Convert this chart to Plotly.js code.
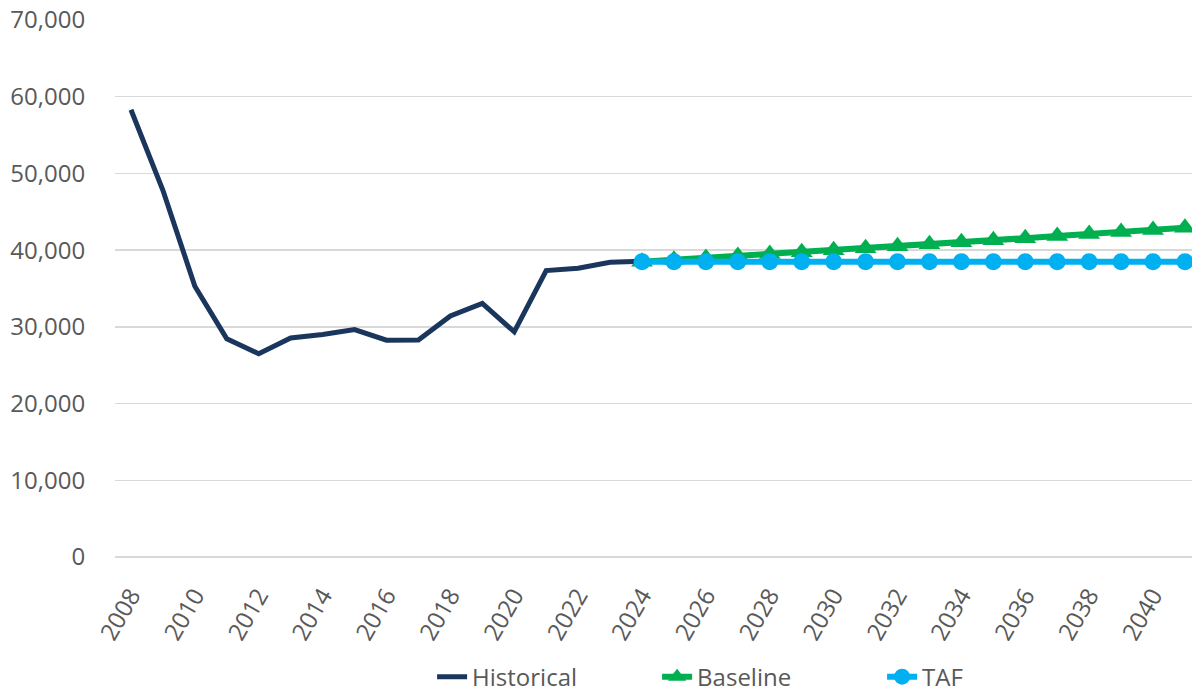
<!DOCTYPE html>
<html>
<head>
<meta charset="utf-8">
<script src="https://cdn.plot.ly/plotly-3.0.1.min.js"></script>
<style>
  html, body { margin: 0; padding: 0; background: #ffffff; overflow: hidden; }
  #chart { width: 1192px; height: 698px; }
</style>
</head>
<body>
<div id="chart"></div>
<script>
// ---- Data ----
const histYears = [2008, 2009, 2010, 2011, 2012, 2013, 2014, 2015, 2016, 2017, 2018, 2019, 2020, 2021, 2022, 2023, 2024];
const historical = [58300, 47800, 35300, 28450, 26500, 28550, 29000, 29650, 28270, 28300, 31430, 33070, 29350, 37330, 37640, 38420, 38550];

const fcstYears = [2024, 2025, 2026, 2027, 2028, 2029, 2030, 2031, 2032, 2033, 2034, 2035, 2036, 2037, 2038, 2039, 2040, 2041];
const baseline = [38500, 38740, 38990, 39240, 39490, 39740, 40000, 40250, 40510, 40770, 41030, 41290, 41560, 41830, 42100, 42370, 42640, 42910];
const taf = [38500, 38500, 38500, 38500, 38500, 38500, 38500, 38500, 38500, 38500, 38500, 38500, 38500, 38500, 38500, 38500, 38500, 38500];

const seriesNames = ['Historical', 'Baseline', 'TAF'];

// ---- Styles ----
const FONT = '"Open Sans", "Liberation Sans", Arial, sans-serif';
const TEXT = '#595959';
const GRID = '#d9d9d9';

const traces = [
  {
    x: histYears, y: historical, name: seriesNames[0],
    type: 'scatter', mode: 'lines',
    line: { color: '#1b365d', width: 5 }
  },
  {
    x: fcstYears, y: baseline, name: seriesNames[1],
    type: 'scatter', mode: 'lines+markers',
    line: { color: '#00b050', width: 6 },
    marker: { symbol: 'triangle-up', size: 19, color: '#00b050' }
  },
  {
    x: fcstYears, y: taf, name: seriesNames[2],
    type: 'scatter', mode: 'lines+markers',
    line: { color: '#00b0f0', width: 6 },
    marker: { symbol: 'circle', size: 17, color: '#00b0f0' }
  }
];

const layout = {
  width: 1192, height: 698,
  margin: { l: 115, r: 0, t: 20, b: 141, autoexpand: false },
  paper_bgcolor: '#ffffff',
  plot_bgcolor: '#ffffff',
  font: { family: FONT, size: 24, color: TEXT },
  showlegend: true,
  xaxis: {
    type: 'linear',
    range: [2007.5, 2041.22],
    tick0: 2008, dtick: 2,
    tickformat: 'd',
    tickangle: -60,
    showgrid: false,
    zeroline: false,
    showline: false,
    automargin: false,
    ticks: 'outside', ticklen: 14, tickcolor: 'rgba(0,0,0,0)',
    tickfont: { family: FONT, size: 24, color: TEXT }
  },
  yaxis: {
    range: [0, 70000],
    tick0: 0, dtick: 10000,
    tickformat: ',d',
    automargin: false,
    showgrid: true, gridcolor: GRID, gridwidth: 1.5,
    zeroline: true, zerolinecolor: GRID, zerolinewidth: 1.5,
    showline: false,
    ticks: 'outside', ticklen: 24, tickcolor: 'rgba(0,0,0,0)',
    tickfont: { family: FONT, size: 24, color: TEXT }
  },
  legend: {
    orientation: 'h',
    xref: 'container', yref: 'container',
    x: 0.3625, xanchor: 'left',
    y: 0.03, yanchor: 'middle',
    font: { family: FONT, size: 24, color: TEXT },
    entrywidth: 180,
    bgcolor: 'rgba(0,0,0,0)'
  }
};

Plotly.newPlot('chart', traces, layout, { displayModeBar: false, staticPlot: true });
</script>
</body>
</html>
